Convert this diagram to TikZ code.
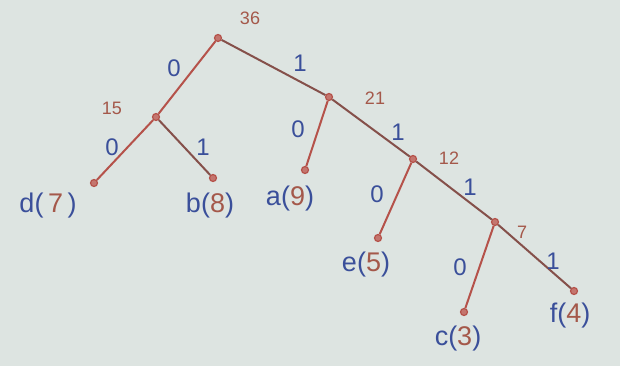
\documentclass[tikz,border=0pt]{standalone}
\usepackage{fontspec}
\setmainfont{Liberation Sans}
\definecolor{paper}{HTML}{DDE4E1}
\definecolor{redink}{HTML}{B5524A}
\definecolor{brownink}{HTML}{85504A}
\definecolor{blueink}{HTML}{3A4F9A}
\definecolor{numink}{HTML}{A4584A}
\begin{document}
\begin{tikzpicture}[x=1pt,y=-1pt,
  dot/.style={circle,draw=redink,fill=redink!80,line width=1.2pt,inner sep=0pt,minimum size=7pt},
  edge/.style={draw=redink,line width=2pt},
  darkedge/.style={draw=brownink,line width=2pt},
  weight/.style={text=numink,font=\fontsize{18}{18}\selectfont},
  bit/.style={text=blueink,font=\fontsize{24}{24}\selectfont},
  leaf/.style={text=blueink,font=\fontsize{27}{27}\selectfont}]
\fill[paper] (0,0) rectangle (620,366);
\useasboundingbox (0,0) rectangle (620,366);
% internal nodes and leaves
\node[dot] (r) at (218,38) {};
\node[dot] (n15) at (156,117) {};
\node[dot] (n21) at (329,97) {};
\node[dot] (n12) at (413,159) {};
\node[dot] (n7) at (495,222) {};
\node[dot] (d) at (94,183) {};
\node[dot] (b) at (213,178) {};
\node[dot] (a) at (305,170) {};
\node[dot] (e) at (378,238) {};
\node[dot] (c) at (464,312) {};
\node[dot] (f) at (574,291) {};
% edges
\draw[edge] (r) -- (n15);
\draw[darkedge] (r) -- (n21);
\draw[edge] (n15) -- (d);
\draw[darkedge] (n15) -- (b);
\draw[edge] (n21) -- (a);
\draw[darkedge] (n21) -- (n12);
\draw[edge] (n12) -- (e);
\draw[darkedge] (n12) -- (n7);
\draw[edge] (n7) -- (c);
\draw[darkedge] (n7) -- (f);
% weights
\node[weight] (w36) at (250,18) {36};
\node[weight] (w15) at (112,108) {15};
\node[weight] (w21) at (375,98) {21};
\node[weight] (w12) at (449,158) {12};
\node[weight] (w7) at (522,232) {7};
% bits
\node[bit] (b1) at (174,68) {0};
\node[bit] (b2) at (300,63) {1};
\node[bit] (b3) at (112,147) {0};
\node[bit] (b4) at (203,147) {1};
\node[bit] (b5) at (298,129) {0};
\node[bit] (b6) at (398,132) {1};
\node[bit] (b7) at (377,194) {0};
\node[bit] (b8) at (470,187) {1};
\node[bit] (b9) at (460,267) {0};
\node[bit] (b10) at (553,261) {1};
% leaf labels
\node[leaf] (ld) at (48,206) {d(\,\textcolor{numink}{7}\,)};
\node[leaf] (lb) at (210,206) {b(\textcolor{numink}{8})};
\node[leaf] (la) at (290,199) {a(\textcolor{numink}{9})};
\node[leaf] (le) at (366,265) {e(\textcolor{numink}{5})};
\node[leaf] (lc) at (458,339) {c(\textcolor{numink}{3})};
\node[leaf] (lf) at (570,316) {f(\textcolor{numink}{4})};
\end{tikzpicture}
\end{document}
